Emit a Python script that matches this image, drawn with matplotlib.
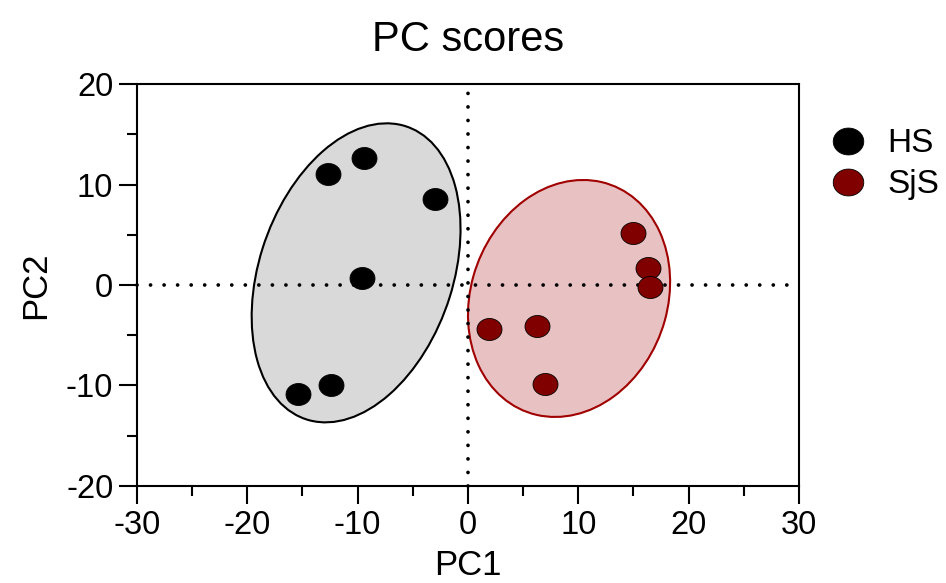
import matplotlib
matplotlib.use("Agg")
import matplotlib.pyplot as plt
from matplotlib.patches import Ellipse
from matplotlib.path import Path
import numpy as np

plt.rcParams['font.family'] = ['Liberation Sans', 'DejaVu Sans']
plt.rcParams['axes.unicode_minus'] = False

# PC scores
hs_pc1 = [-12.7, -9.4, -3.0, -9.6, -15.4, -12.4]
hs_pc2 = [11.0, 12.6, 8.6, 0.7, -10.8, -10.0]
sjs_pc1 = [15.0, 16.3, 16.5, 1.9, 6.3, 7.0]
sjs_pc2 = [5.2, 1.7, -0.2, -4.4, -4.1, -9.9]

# ellipses: center, semi-major, semi-minor, angle (deg)
hs_ell = ((-10.14, 1.21), 15.27, 8.82, 74.0)
sjs_ell = ((9.16, -1.34), 11.95, 8.95, 75.75)

xticks = [-30, -20, -10, 0, 10, 20, 30]
yticks = [-20, -10, 0, 10, 20]

# slightly flattened circle marker
t = np.linspace(0, 2 * np.pi, 60)
oval = Path(np.column_stack([np.cos(t), 0.88 * np.sin(t)]), closed=True)

fig = plt.figure(figsize=(9.46, 5.83), dpi=100)
ax = fig.add_axes([0.1448, 0.1664, 0.6998, 0.6895])

for (c, a, b, ang), fc, ec in [(hs_ell, '#d9d9d9', 'black'), (sjs_ell, '#e8c1c2', '#a00000')]:
    ax.add_patch(Ellipse(c, 2 * a, 2 * b, angle=ang, facecolor=fc, edgecolor=ec,
                         linewidth=1.5, zorder=1))

ax.plot([0, 0], [-20, 20], color='black', lw=2.7, dashes=(0.01, 3.6),
        dash_capstyle='round', zorder=2, clip_on=False)
ax.plot([-30, 30], [0, 0], color='black', lw=2.7, dashes=(0.01, 3.6),
        dash_capstyle='round', zorder=2, clip_on=False)

ax.plot(hs_pc1, hs_pc2, linestyle='none', marker=oval, markersize=18,
        color='black', markeredgecolor='black', markeredgewidth=0.6, zorder=3)
ax.plot(sjs_pc1, sjs_pc2, linestyle='none', marker=oval, markersize=18,
        color='#800000', markeredgecolor='black', markeredgewidth=0.6, zorder=3)

ax.set_xlim(-30, 30)
ax.set_ylim(-20, 20)
ax.set_xticks(xticks)
ax.set_yticks(yticks)
ax.set_xticks(np.arange(-25, 30, 10), minor=True)
ax.set_yticks(np.arange(-15, 20, 10), minor=True)
ax.tick_params(which='major', length=13, width=1.5, labelsize=23.5, pad=4)
ax.tick_params(which='minor', length=7, width=1.5)
for s in ax.spines.values():
    s.set_linewidth(1.5)

ax.set_xlabel('PC1', fontsize=25, labelpad=6)
ax.set_ylabel('PC2', fontsize=25, labelpad=10)
ax.set_title('PC scores', fontsize=30, pad=24)

h1, = ax.plot([], [], linestyle='none', marker=oval, markersize=22, color='black',
              markeredgecolor='black', markeredgewidth=0.6, label='HS')
h2, = ax.plot([], [], linestyle='none', marker=oval, markersize=22, color='#800000',
              markeredgecolor='black', markeredgewidth=0.6, label='SjS')
ax.legend(handles=[h1, h2], loc='upper left', bbox_to_anchor=(1.051, 0.89),
          frameon=False, fontsize=24, handlelength=0.9, handletextpad=0.73,
          labelspacing=0.3, borderaxespad=0, borderpad=0)

fig.savefig('out.png', dpi=100)
